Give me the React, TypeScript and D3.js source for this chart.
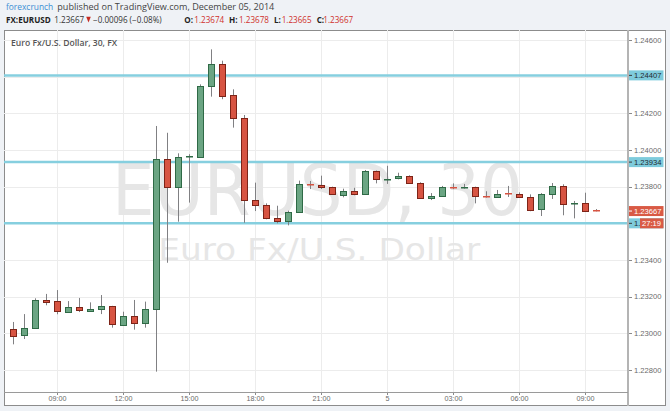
import React from "react";
import * as d3 from "d3";

const times = [
  "2014-12-04 07:00", "2014-12-04 07:30", "2014-12-04 08:00", "2014-12-04 08:30",
  "2014-12-04 09:00", "2014-12-04 09:30", "2014-12-04 10:00", "2014-12-04 10:30",
  "2014-12-04 11:00", "2014-12-04 11:30", "2014-12-04 12:00", "2014-12-04 12:30",
  "2014-12-04 13:00", "2014-12-04 13:30", "2014-12-04 14:00", "2014-12-04 14:30",
  "2014-12-04 15:00", "2014-12-04 15:30", "2014-12-04 16:00", "2014-12-04 16:30",
  "2014-12-04 17:00", "2014-12-04 17:30", "2014-12-04 18:00", "2014-12-04 18:30",
  "2014-12-04 19:00", "2014-12-04 19:30", "2014-12-04 20:00", "2014-12-04 20:30",
  "2014-12-04 21:00", "2014-12-04 21:30", "2014-12-04 22:00", "2014-12-04 22:30",
  "2014-12-04 23:00", "2014-12-04 23:30", "2014-12-05 00:00", "2014-12-05 00:30",
  "2014-12-05 01:00", "2014-12-05 01:30", "2014-12-05 02:00", "2014-12-05 02:30",
  "2014-12-05 03:00", "2014-12-05 03:30", "2014-12-05 04:00", "2014-12-05 04:30",
  "2014-12-05 05:00", "2014-12-05 05:30", "2014-12-05 06:00", "2014-12-05 06:30",
  "2014-12-05 07:00", "2014-12-05 07:30", "2014-12-05 08:00", "2014-12-05 08:30",
  "2014-12-05 09:00", "2014-12-05 09:30",
];

const opens = [
  1.23025, 1.22987, 1.23025, 1.23180, 1.23175, 1.23116, 1.23142, 1.23123,
  1.23129, 1.23147, 1.23049, 1.23096, 1.23056, 1.23133, 1.23949, 1.23797,
  1.23960, 1.23960, 1.24347, 1.24469, 1.24298, 1.24173, 1.23726, 1.23700,
  1.23629, 1.23611, 1.23662, 1.23815, 1.23809, 1.23797, 1.23758, 1.23778,
  1.23762, 1.23885, 1.23838, 1.23847, 1.23860, 1.23818, 1.23737, 1.23747,
  1.23797, 1.23793, 1.23797, 1.23747, 1.23744, 1.23763, 1.23758, 1.23742,
  1.23676, 1.23760, 1.23802, 1.23704, 1.23709, 1.23674,
];
const highs = [
  1.23062, 1.23105, 1.23191, 1.23215, 1.23236, 1.23176, 1.23193, 1.23169,
  1.23209, 1.23150, 1.23118, 1.23182, 1.23173, 1.24131, 1.24094, 1.23982,
  1.23977, 1.24358, 1.24549, 1.24487, 1.24331, 1.24191, 1.23822, 1.23709,
  1.23696, 1.23669, 1.23833, 1.23831, 1.23860, 1.23800, 1.23789, 1.23794,
  1.23891, 1.23888, 1.23914, 1.23876, 1.23862, 1.23824, 1.23765, 1.23804,
  1.23818, 1.23815, 1.23800, 1.23775, 1.23782, 1.23804, 1.23769, 1.23758,
  1.23765, 1.23820, 1.23813, 1.23722, 1.23767, 1.23678,
];
const lows = [
  1.22940, 1.22969, 1.23025, 1.23153, 1.23104, 1.23113, 1.23116, 1.23120,
  1.23105, 1.23031, 1.23047, 1.23020, 1.23031, 1.22791, 1.23385, 1.23609,
  1.23713, 1.23960, 1.24291, 1.24277, 1.24122, 1.23603, 1.23667, 1.23622,
  1.23600, 1.23589, 1.23660, 1.23787, 1.23787, 1.23755, 1.23742, 1.23753,
  1.23760, 1.23818, 1.23815, 1.23840, 1.23818, 1.23735, 1.23727, 1.23745,
  1.23786, 1.23789, 1.23709, 1.23740, 1.23742, 1.23744, 1.23742, 1.23666,
  1.23640, 1.23733, 1.23644, 1.23627, 1.23662, 1.23665,
];
const closes = [
  1.22987, 1.23027, 1.23180, 1.23171, 1.23118, 1.23142, 1.23126, 1.23133,
  1.23147, 1.23049, 1.23096, 1.23056, 1.23133, 1.23949, 1.23797, 1.23960,
  1.23965, 1.24349, 1.24469, 1.24296, 1.24173, 1.23726, 1.23700, 1.23631,
  1.23611, 1.23660, 1.23815, 1.23807, 1.23797, 1.23758, 1.23778, 1.23762,
  1.23885, 1.23840, 1.23843, 1.23860, 1.23822, 1.23737, 1.23747, 1.23798,
  1.23795, 1.23798, 1.23747, 1.23742, 1.23758, 1.23760, 1.23744, 1.23673,
  1.23760, 1.23802, 1.23704, 1.23711, 1.23667, 1.23667,
];

const priceTicks = [1.228, 1.23, 1.232, 1.234, 1.236, 1.238, 1.24, 1.242, 1.244, 1.246];
const timeTicks = [
  "2014-12-04 09:00", "2014-12-04 12:00", "2014-12-04 15:00", "2014-12-04 18:00",
  "2014-12-04 21:00", "2014-12-05 00:00", "2014-12-05 03:00", "2014-12-05 06:00",
  "2014-12-05 09:00",
];
const timeTickLabels = ["09:00", "12:00", "15:00", "18:00", "21:00", "5", "03:00", "06:00", "09:00"];
const levels = [1.24407, 1.23934, 1.236];
const levelLabels = ["1.24407", "1.23934", "1."];
const lastPrice = 1.23667;
const countdown = "27:19";

const W = 670;
const H = 411;
const box = { left: 4, right: 666, top: 30, bottom: 406 };
const plot = { left: 4, right: 628, top: 30, bottom: 392 };

const parse = d3.timeParse("%Y-%m-%d %H:%M");
const UP = "#6ba583";
const UP_B = "#2f6a46";
const DOWN = "#d75442";
const DOWN_B = "#7d2418";
const WICK = "#808083";
const LEVEL = "#86cfdf";
const AX_FONT = "'Liberation Sans', Arial, sans-serif";
const HDR_FONT = "'Open Sans', sans-serif";
const fmt = d3.format(".5f");

export default function App() {
  const x = d3
    .scaleTime()
    .domain([parse("2014-12-04 09:00")!, parse("2014-12-05 09:00")!])
    .range([57.3, 585]);
  const y = d3.scaleLinear().domain([1.228, 1.246]).range([370, 40]);

  const bars = times.map((t, i) => ({
    t: parse(t)!,
    o: opens[i],
    h: highs[i],
    l: lows[i],
    c: closes[i],
  }));
  const bodyW = 7;

  return (
    <div style={{ position: "fixed", left: 0, top: 0, width: W, height: H }}>
      <svg width={W} height={H} viewBox={`0 0 ${W} ${H}`} style={{ display: "block" }}>
        <defs>
          <clipPath id="plotclip">
            <rect x={plot.left} y={plot.top} width={plot.right - plot.left} height={plot.bottom - plot.top} />
          </clipPath>
        </defs>
        <rect x={0} y={0} width={W} height={H} fill="#eff2f6" />
        <rect x={box.left + 0.5} y={box.top + 0.5} width={box.right - box.left - 1} height={box.bottom - box.top - 1} fill="#ffffff" stroke="#8c8c8c" strokeWidth={1} />

        {/* header */}
        <text x={6} y={9.6} fontFamily={HDR_FONT} fontSize={8.4} fill="#3b8fd4">forexcrunch</text>
        <text x={57.3} y={9.6} fontFamily={HDR_FONT} fontSize={8.4} fill="#444" textLength={217} lengthAdjust="spacingAndGlyphs">
          published on TradingView.com, December 05, 2014
        </text>
        <g fontFamily={HDR_FONT} fontSize={8.1} fill="#333">
          <text x={6} y={22.7} fontWeight={700} fill="#222">FX:EURUSD</text>
          <text x={54.3} y={22.7}>1.23667</text>
          <path d="M86.2,16.8 L90.8,16.8 L88.5,22.4 Z" fill="#c42b22" />
          <text x={93} y={22.7}>−0.00096 (−0.08%)</text>
          <text x={184.3} y={22.7} fontWeight={700} fill="#222">O:</text>
          <text x={194.3} y={22.7} fill="#cf2f2a">1.23674</text>
          <text x={229} y={22.7} fontWeight={700} fill="#222">H:</text>
          <text x={239} y={22.7} fill="#cf2f2a">1.23678</text>
          <text x={274} y={22.7} fontWeight={700} fill="#222">L:</text>
          <text x={281.7} y={22.7} fill="#cf2f2a">1.23665</text>
          <text x={316.7} y={22.7} fontWeight={700} fill="#222">C:</text>
          <text x={323.3} y={22.7} fill="#cf2f2a">1.23667</text>
        </g>

        <g clipPath="url(#plotclip)">
          {/* grid */}
          {priceTicks.map((p) => (
            <line key={"hg" + p} x1={plot.left} x2={plot.right} y1={Math.round(y(p)) + 0.5} y2={Math.round(y(p)) + 0.5} stroke="#ececec" />
          ))}
          {timeTicks.map((t) => {
            const xx = Math.round(x(parse(t)!)) + 0.5;
            return <line key={"vg" + t} x1={xx} x2={xx} y1={plot.top} y2={plot.bottom} stroke="#ececec" />;
          })}

          {/* watermark */}
          <text x={317.4} y={215} textAnchor="middle" fontFamily="'DejaVu Sans', sans-serif" fontSize={71} fill="#e6e6e6" textLength={411} lengthAdjust="spacingAndGlyphs">
            EURUSD, 30
          </text>
          <text x={319.2} y={260} textAnchor="middle" fontFamily="'DejaVu Sans', sans-serif" fontSize={30} fill="#e6e6e6" textLength={322} lengthAdjust="spacingAndGlyphs">
            Euro Fx/U.S. Dollar
          </text>

          <text x={11} y={46} fontFamily={HDR_FONT} fontSize={8.6} fontWeight={600} fill="#555">
            Euro Fx/U.S. Dollar, 30, FX
          </text>

          {/* level lines */}
          {levels.map((lv) => (
            <line key={"lv" + lv} x1={plot.left} x2={plot.right} y1={y(lv)} y2={y(lv)} stroke={LEVEL} strokeWidth={2.5} />
          ))}

          {/* candles */}
          {bars.map((b, i) => {
            const cx = Math.round(x(b.t));
            const up = b.c >= b.o;
            const yTop = y(Math.max(b.o, b.c));
            const yBot = y(Math.min(b.o, b.c));
            const hgt = Math.max(1, Math.round(yBot - yTop));
            const top = Math.round(yTop);
            return (
              <g key={"c" + i}>
                <line x1={cx + 0.5} x2={cx + 0.5} y1={y(b.h)} y2={y(b.l)} stroke={WICK} strokeWidth={1} />
                {hgt <= 1.5 ? (
                  <rect x={cx - 3} y={top} width={bodyW} height={1.5} fill={up ? UP_B : DOWN} />
                ) : (
                  <rect x={cx - 3 + 0.5} y={top + 0.5} width={bodyW - 1} height={hgt} fill={up ? UP : DOWN} stroke={up ? UP_B : DOWN_B} strokeWidth={1} />
                )}
              </g>
            );
          })}
        </g>

        {/* axes lines */}
        <line x1={plot.right} x2={plot.right} y1={plot.top} y2={box.bottom} stroke="#b4b4b4" strokeWidth={2} />
        <line x1={plot.left} x2={plot.right} y1={plot.bottom + 0.5} y2={plot.bottom + 0.5} stroke="#9a9a9a" />

        {/* price axis */}
        <g fontFamily={AX_FONT} fontSize={7.6} fill="#6a6a6a">
          {priceTicks.map((p) => (
            <g key={"pt" + p}>
              <line x1={plot.right + 1} x2={plot.right + 4} y1={Math.round(y(p)) + 0.5} y2={Math.round(y(p)) + 0.5} stroke="#8a8a8a" />
              <text x={634} y={y(p)} dy="0.35em">{fmt(p)}</text>
            </g>
          ))}
          {levels.map((lv, i) => (
            <g key={"bd" + lv}>
              <rect x={plot.right + 1} y={y(lv) - 5} width={34.5} height={10} fill="#7ecbdc" />
              <line x1={plot.right + 1} x2={plot.right + 4} y1={y(lv)} y2={y(lv)} stroke="#3a3a3a" />
              <text x={634} y={y(lv)} dy="0.35em" fill="#1e2a30">{levelLabels[i]}</text>
            </g>
          ))}
          <rect x={plot.right + 1} y={y(lastPrice) - 5} width={34.5} height={10} fill="#d95a45" />
          <line x1={plot.right + 1} x2={plot.right + 4} y1={y(lastPrice)} y2={y(lastPrice)} stroke="#ffffff" />
          <text x={634} y={y(lastPrice)} dy="0.35em" fill="#ffffff">{fmt(lastPrice)}</text>
          <rect x={640} y={y(levels[2]) - 5} width={23.5} height={10} fill="#d95a45" />
          <text x={642} y={y(levels[2])} dy="0.35em" fill="#ffffff">{countdown}</text>
        </g>

        {/* time axis */}
        <g fontFamily={AX_FONT} fontSize={7.2} fill="#6a6a6a">
          {timeTicks.map((t, i) => {
            const xx = Math.round(x(parse(t)!)) + 0.5;
            return (
              <g key={"tt" + t}>
                <line x1={xx} x2={xx} y1={plot.bottom + 1} y2={plot.bottom + 3} stroke="#8a8a8a" />
                <text x={xx} y={400.8} textAnchor="middle">{timeTickLabels[i]}</text>
              </g>
            );
          })}
        </g>
      </svg>
    </div>
  );
}
